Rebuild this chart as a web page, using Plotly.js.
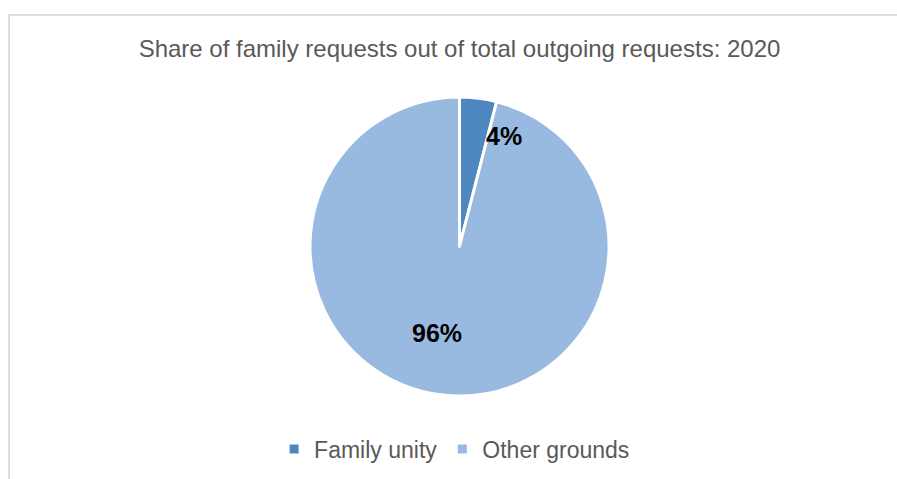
<!DOCTYPE html>
<html>
<head>
<meta charset="utf-8">
<script src="https://cdn.plot.ly/plotly-3.0.1.min.js"></script>
<style>
  html, body { margin: 0; padding: 0; background: #ffffff; }
  #wrap { position: relative; width: 897px; height: 479px; overflow: hidden; }
  #chart { width: 897px; height: 479px; }
  #frame { position: absolute; left: 8px; top: 14px; width: 920px; height: 500px;
           border-top: 2px solid #dcdcdc; border-left: 2px solid #dcdcdc; pointer-events: none; }
</style>
</head>
<body>
<div id="wrap">
  <div id="chart"></div>
  <div id="frame"></div>
</div>
<script>
// ---- data ----
const categories = ["Family unity", "Other grounds"];
const values = [4, 96];
const chartTitle = "Share of family requests out of total outgoing requests: 2020";

// ---- styles ----
const sliceColors = ["#4E87C0", "#98B9E0"];
const labelRadius = [0.795, 0.598];      // fraction of pie radius
const labelAngleShift = [15, 7.4];       // degrees, clockwise
const font = "Liberation Sans, Arial, sans-serif";

const total = values.reduce((a, b) => a + b, 0);
const annotations = [];
let cum = 0;
values.forEach((v, i) => {
  const mid = (cum + v / 2) / total * 360 + labelAngleShift[i];
  cum += v;
  const rad = mid * Math.PI / 180;
  const r = 0.5 * labelRadius[i];
  annotations.push({
    xref: "paper", yref: "paper",
    x: 0.5 + r * Math.sin(rad),
    y: 0.5 + r * Math.cos(rad),
    text: "<b>" + Math.round(v / total * 100) + "%</b>",
    showarrow: false,
    xanchor: "center", yanchor: "middle",
    font: { family: font, size: 25, color: "#000000" }
  });
});

const trace = {
  type: "pie",
  labels: categories,
  values: values,
  sort: false,
  direction: "clockwise",
  rotation: 0,
  textinfo: "none",
  hoverinfo: "label+percent",
  marker: { colors: sliceColors, line: { color: "#ffffff", width: 3 } }
};

const layout = {
  width: 897, height: 479,
  margin: { l: 310, r: 288, t: 97, b: 83 },
  paper_bgcolor: "#ffffff",
  plot_bgcolor: "#ffffff",
  font: { family: font, color: "#595959" },
  title: {
    text: chartTitle,
    font: { family: font, size: 24, color: "#595959" },
    xref: "paper", x: 0.5, xanchor: "center",
    yref: "container", y: 0.899, yanchor: "middle"
  },
  showlegend: true,
  legend: {
    orientation: "h",
    xref: "paper", yref: "container",
    x: -0.12, xanchor: "left",
    y: 0.0626, yanchor: "middle",
    font: { family: font, size: 23, color: "#595959" },
    traceorder: "normal"
  },
  annotations: annotations
};

Plotly.newPlot("chart", [trace], layout, { displayModeBar: false, staticPlot: true });
</script>
</body>
</html>
